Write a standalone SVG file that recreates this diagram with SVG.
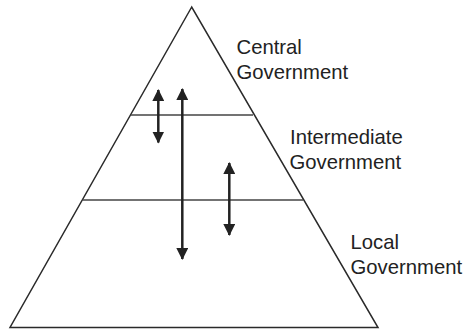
<svg xmlns="http://www.w3.org/2000/svg" width="468" height="333" viewBox="0 0 468 333">
<defs>
<marker id="ah" viewBox="0 0 12 12" refX="11" refY="6" markerWidth="12" markerHeight="12" markerUnits="userSpaceOnUse" orient="auto-start-reverse">
<path d="M0,0 L12,6 L0,12 Z" fill="#222"/>
</marker>
</defs>
<style>
.shape{fill:none;stroke:#2a2a2a;stroke-width:1.5}
.tier{stroke:#444;stroke-width:1.3}
.arrow{stroke:#222;stroke-width:2.5;marker-start:url(#ah);marker-end:url(#ah)}
text{font-family:"Liberation Sans",Arial,sans-serif;font-size:20.3px;fill:#222}
</style>
<rect width="468" height="333" fill="#fff"/>
<g id="pyramid">
<polygon class="shape" points="191.7,7 10,327.5 378,327.5"/>
<line class="tier" x1="131" y1="115" x2="253" y2="115"/>
<line class="tier" x1="82.5" y1="200" x2="303" y2="200"/>
</g>
<g id="central">
<text x="236.5" y="53.5">Central</text>
<text x="236.5" y="78.5">Government</text>
</g>
<g id="intermediate">
<text x="290" y="143.5">Intermediate</text>
<text x="289.5" y="168.5">Government</text>
</g>
<g id="local">
<text x="350.5" y="248.5">Local</text>
<text x="350.5" y="274">Government</text>
</g>
<g id="connectors">
<line class="arrow" x1="158.3" y1="90" x2="158.3" y2="142.5"/>
<line class="arrow" x1="182.3" y1="89" x2="182.3" y2="259"/>
<line class="arrow" x1="229.3" y1="163" x2="229.3" y2="235"/>
</g>
</svg>
